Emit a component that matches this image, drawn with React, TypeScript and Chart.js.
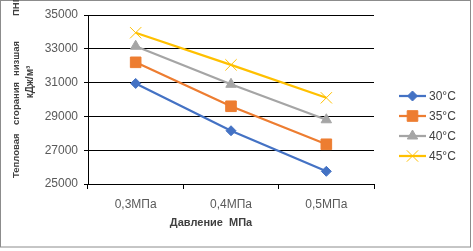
import React, { useEffect, useRef } from "react";
import { Chart, registerables, PointElement } from "chart.js";

Chart.register(...registerables);

const categories = ["0,3МПа", "0,4МПа", "0,5МПа"];
const seriesNames = ["30°C", "35°C", "40°C", "45°C"];
const s30 = [30950, 28150, 25750];
const s35 = [32200, 29600, 27350];
const s40 = [33150, 30900, 28800];
const s45 = [33950, 32050, 30100];
const yMin = 25000;
const yMax = 35000;
const yStep = 2000;
const xTitle = "Давление МПа";
const yTitleWords = ["Тепловая", "сгорания", "низшая", "ПНГ,"];
const yTitleLine2 = "кДж/м³";

const colors = ["#4472C4", "#ED7D31", "#A5A5A5", "#FFC000"];
const pointStyles = ["rectRot", "rect", "triangle", "crossRot"];
const pointRadii = [5, 7.5, 6, 8];
const FONT = "'Liberation Sans', Arial, sans-serif";

// start offsets (px along the rotated title line) of each title word
const yTitleWordStarts = [178, 125, 76, 16];

const decorPlugin = {
  id: "decor",
  afterDraw(chart: any) {
    const ctx = chart.ctx as CanvasRenderingContext2D;
    ctx.save();
    // outer border
    ctx.strokeStyle = "#8c8c8c";
    ctx.lineWidth = 1;
    ctx.strokeRect(0.5, 0.5, 470, 246.5);

    // x title
    ctx.fillStyle = "#404040";
    ctx.font = `bold 11px ${FONT}`;
    ctx.textAlign = "center";
    ctx.textBaseline = "middle";
    (ctx as any).wordSpacing = "3px";
    ctx.fillText(xTitle, 211, 223);
    (ctx as any).wordSpacing = "0px";

    // y title
    ctx.font = `bold 9.5px ${FONT}`;
    yTitleWords.forEach((w, i) => {
      ctx.save();
      ctx.translate(16, yTitleWordStarts[i]);
      ctx.rotate(-Math.PI / 2);
      ctx.textAlign = "left";
      ctx.fillText(w, 0, 0);
      ctx.restore();
    });
    ctx.font = `bold 10px ${FONT}`;
    ctx.save();
    ctx.translate(30, 82);
    ctx.rotate(-Math.PI / 2);
    ctx.textAlign = "center";
    ctx.fillText(yTitleLine2, 0, 0);
    ctx.restore();

    // legend
    const legendYs = [96, 116, 136, 156];
    chart.data.datasets.forEach((ds: any, i: number) => {
      const y = legendYs[i];
      ctx.strokeStyle = ds.borderColor;
      ctx.lineWidth = 2.25;
      ctx.beginPath();
      ctx.moveTo(399, y);
      ctx.lineTo(426, y);
      ctx.stroke();
      const pt: any = new PointElement({});
      pt.x = 412.5;
      pt.y = y;
      pt.options = {
        pointStyle: ds.pointStyle,
        radius: ds.pointRadius,
        borderWidth: 1,
        rotation: 0,
        backgroundColor: ds.pointBackgroundColor,
        borderColor: ds.pointBorderColor,
      };
      pt.draw(ctx);
      ctx.fillStyle = "#404040";
      ctx.font = `12px ${FONT}`;
      ctx.textAlign = "left";
      ctx.textBaseline = "middle";
      ctx.fillText(seriesNames[i], 429, y + 0.5);
    });
    ctx.restore();
  },
};

export default function App() {
  const ref = useRef<HTMLCanvasElement>(null);
  useEffect(() => {
    document.body.style.margin = "0";
    const all = [s30, s35, s40, s45];
    const chart = new Chart(ref.current!, {
      type: "line",
      data: {
        labels: categories,
        datasets: all.map((d, i) => ({
          label: seriesNames[i],
          data: d,
          borderColor: colors[i],
          backgroundColor: colors[i],
          pointBackgroundColor: colors[i],
          pointBorderColor: colors[i],
          pointStyle: pointStyles[i] as any,
          pointRadius: pointRadii[i],
          pointBorderWidth: 1,
          borderWidth: 2.25,
          tension: 0,
          fill: false,
        })),
      },
      options: {
        responsive: false,
        animation: false,
        devicePixelRatio: 1,
        layout: { padding: { left: 0, top: 15, right: 99, bottom: 4 } },
        plugins: {
          legend: { display: false },
          tooltip: { enabled: false },
        },
        scales: {
          x: {
            type: "category",
            offset: true,
            grid: {
              offset: true,
              drawOnChartArea: false,
              drawTicks: true,
              tickLength: 5,
              color: "#000",
            },
            border: { color: "#000", width: 1 },
            ticks: {
              color: "#595959",
              font: { family: FONT, size: 12 },
              padding: 8,
              maxRotation: 0,
            },
            afterFit: (s: any) => {
              s.height = 63;
            },
          },
          y: {
            min: yMin,
            max: yMax,
            ticks: {
              stepSize: yStep,
              color: "#595959",
              font: { family: FONT, size: 12 },
              padding: 6,
              callback: (v: any) => String(v),
            },
            grid: { color: "#000", tickLength: 4, drawTicks: true },
            border: { color: "#000", width: 1 },
            afterFit: (s: any) => {
              s.width = 88;
            },
          },
        },
      },
      plugins: [decorPlugin],
    });
    return () => chart.destroy();
  }, []);
  return (
    <div style={{ position: "absolute", left: 0, top: 0, width: 473, height: 251 }}>
      <canvas ref={ref} width={473} height={251} />
    </div>
  );
}
